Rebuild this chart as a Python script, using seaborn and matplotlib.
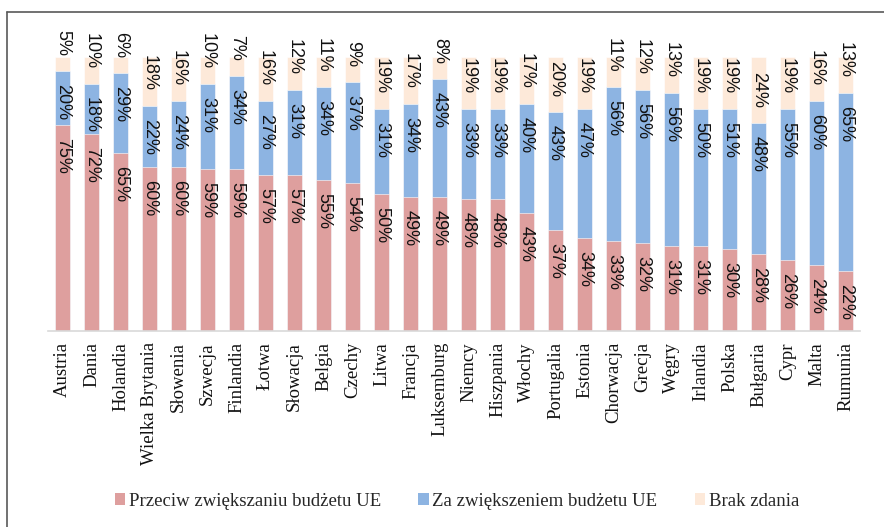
import pandas as pd
import matplotlib.pyplot as plt
import seaborn as sns
from matplotlib.patches import Patch
from matplotlib.lines import Line2D

kraje = ["Austria", "Dania", "Holandia", "Wielka Brytania", "Słowenia", "Szwecja",
         "Finlandia", "Łotwa", "Słowacja", "Belgia", "Czechy", "Litwa", "Francja",
         "Luksemburg", "Niemcy", "Hiszpania", "Włochy", "Portugalia", "Estonia",
         "Chorwacja", "Grecja", "Węgry", "Irlandia", "Polska", "Bułgaria", "Cypr",
         "Malta", "Rumunia"]
przeciw = [75, 72, 65, 60, 60, 59, 59, 57, 57, 55, 54, 50, 49, 49, 48, 48, 43, 37,
           34, 33, 32, 31, 31, 30, 28, 26, 24, 22]
za = [20, 18, 29, 22, 24, 31, 34, 27, 31, 34, 37, 31, 34, 43, 33, 33, 40, 43,
      47, 56, 56, 56, 50, 51, 48, 55, 60, 65]
brak = [5, 10, 6, 18, 16, 10, 7, 16, 12, 11, 9, 19, 17, 8, 19, 19, 17, 20,
        19, 11, 12, 13, 19, 19, 24, 19, 16, 13]
serie = ["Przeciw zwiększaniu budżetu UE", "Za zwiększeniem budżetu UE", "Brak zdania"]

kolory = ["#DE9F9E", "#8DB4E2", "#FDE9D9"]

df = pd.DataFrame({"kraj": kraje, "przeciw": przeciw, "za": za, "brak": brak})
df["c1"] = df["przeciw"]
df["c2"] = df["c1"] + df["za"]
df["c3"] = df["c2"] + df["brak"]

sns.set_style("white")
plt.rcParams["font.family"] = ["Liberation Serif", "DejaVu Serif"]

fig = plt.figure(figsize=(8.84, 5.27), dpi=100)
ax = fig.add_axes([48 / 884, 1 - 331 / 527, (860 - 48) / 884, 274 / 527])

# stacked bars: draw cumulative totals from the top down
for col, kol in zip(["c3", "c2", "c1"], kolory[::-1]):
    sns.barplot(data=df, x="kraj", y=col, color=kol, saturation=1, width=0.54,
                edgecolor="white", linewidth=0.4, ax=ax)

lab = dict(rotation=270, ha="center", fontsize=13, family=["Liberation Sans", "DejaVu Sans"],
           textcoords="offset pixels", color="#111111", annotation_clip=False)
for i, r in df.iterrows():
    ax.annotate(f"{r['przeciw']}%", xy=(i, r["c1"]), xytext=(0, -13), va="top", **lab)
    ax.annotate(f"{r['za']}%", xy=(i, r["c2"]), xytext=(0, -13), va="top", **lab)
    ax.annotate(f"{r['brak']}%", xy=(i, r["c2"]), xytext=(0, 15), va="bottom", **lab)

ax.set_xlim(-0.5, len(kraje) - 0.5)
ax.set_ylim(0, 100)
ax.set_xlabel("")
ax.set_ylabel("")
ax.set_yticks([])
ax.tick_params(axis="x", length=0, pad=8, labelsize=13.5, rotation=90, labelcolor="#111111")
for s in ["top", "right", "left"]:
    ax.spines[s].set_visible(False)
ax.spines["bottom"].set_color("#D9D9D9")
ax.spines["bottom"].set_linewidth(1.2)

uchwyty = [Patch(facecolor=k, edgecolor="none") for k in kolory]
fig.legend(uchwyty, serie, loc="center", bbox_to_anchor=(457 / 884, 1 - 501 / 527),
           ncol=3, frameon=False, handlelength=0.55, handleheight=0.55,
           handletextpad=0.2, columnspacing=2.0, fontsize=13.5)

# chart frame (only left and top edges visible)
fig.add_artist(Line2D([7.5 / 884, 7.5 / 884], [0, 1 - 12 / 527], color="#595959",
                      linewidth=1.2, transform=fig.transFigure))
fig.add_artist(Line2D([7.5 / 884, 1], [1 - 12 / 527, 1 - 12 / 527], color="#595959",
                      linewidth=1.2, transform=fig.transFigure))

plt.savefig("out.png", dpi=100)
